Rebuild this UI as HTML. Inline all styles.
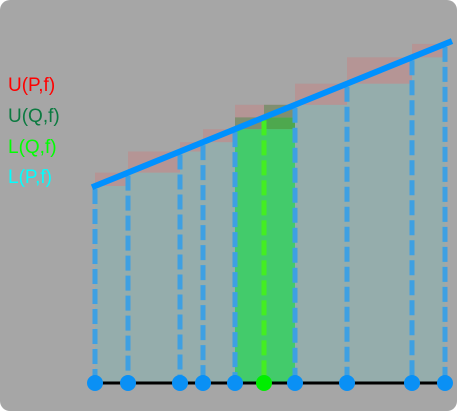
<!DOCTYPE html>
<html><head><meta charset="utf-8"><style>
html,body{margin:0;padding:0;background:#fff;}
svg{display:block;}
</style></head><body>
<svg id="chart" width="457" height="411" viewBox="0 0 457 411" xmlns="http://www.w3.org/2000/svg">
<rect x="0" y="0" width="457" height="411" rx="10" fill="#a6a6a6"/>
<g id="rects"></g>
<g id="dashes"></g>
<g id="fline"></g>
<line x1="95" y1="383" x2="445" y2="383" stroke="#000" stroke-width="3"/>
<g id="dots"></g>
<g font-family="Liberation Sans, sans-serif" font-size="19">
<text x="8" y="91" fill="#ff0000">U(P,f)</text>
<text x="8" y="122" fill="#0b7a40">U(Q,f)</text>
<text x="8" y="153" fill="#00ff00">L(Q,f)</text>
<text x="8" y="183" fill="#00ffff">L(P,f)</text>
</g>
</svg>
<script>
// partition P points (x data units) and refinement point
const partitionP = [0, 33, 85, 108, 140, 200, 252, 317, 350];
const refineQ = [169];
// f(x) endpoints: linear function values
const fStart = 0;      // f at x=0
const fSlope = 0.406;  // rise per unit
const NS="http://www.w3.org/2000/svg";
const X0=95, Y0=383, Ytop0=186;
function sx(v){return X0+v;}
function f(v){return fStart+fSlope*v;}
function sy(val){return Ytop0-val;}
function mk(tag,attrs,parent){const e=document.createElementNS(NS,tag);for(const k in attrs)e.setAttribute(k,attrs[k]);document.getElementById(parent).appendChild(e);return e;}
// P rectangles
for(let i=0;i<partitionP.length-1;i++){
  const a=partitionP[i],b=partitionP[i+1];
  const lo=mk('rect',{x:sx(a),y:sy(f(a)),width:sx(b)-sx(a),height:Y0-sy(f(a)),fill:'#95adac'},'rects');
  
  
  const up=mk('rect',{x:sx(a),y:sy(f(b)),width:sx(b)-sx(a),height:sy(f(a))-sy(f(b)),fill:'#b59595'},'rects');
  
  
}
// Q refinement in the interval containing refineQ
const q=refineQ[0];
let ia=0;for(let i=0;i<partitionP.length-1;i++){if(partitionP[i]<q&&q<partitionP[i+1])ia=i;}
const qa=partitionP[ia],qb=partitionP[ia+1];
let g=mk('rect',{x:sx(qa),y:sy(f(qa)),width:sx(qb)-sx(qa),height:Y0-sy(f(qa)),fill:'#43cb6b'},'rects');


g=mk('rect',{x:sx(q),y:sy(f(q)),width:sx(qb)-sx(q),height:sy(f(qa))-sy(f(q)),fill:'#4ea84e'},'rects');


g=mk('rect',{x:sx(qa),y:sy(f(q)),width:sx(q)-sx(qa),height:sy(f(qa))-sy(f(q)),fill:'#7f8f70'},'rects');


g=mk('rect',{x:sx(q),y:sy(f(qb)),width:sx(qb)-sx(q),height:sy(f(q))-sy(f(qb)),fill:'#7f8f70'},'rects');


// dashed verticals
partitionP.forEach(v=>{
  const l=mk('line',{x1:sx(v),x2:sx(v),y1:sy(f(v))+3,y2:Y0,stroke:'#3ea0e2','stroke-width':5,'stroke-dasharray':'15 5'},'dashes');
  
  
});
refineQ.forEach(v=>{
  const l=mk('line',{x1:sx(v),x2:sx(v),y1:sy(f(v))+3,y2:Y0,stroke:'#44ee22','stroke-width':5,'stroke-dasharray':'15 5'},'dashes');
  
  
});
// function line
const fl=mk('line',{x1:sx(-3),y1:sy(f(-3)),x2:sx(357),y2:sy(f(357)),stroke:'#0091ff','stroke-width':6},'fline');


// dots
partitionP.forEach(v=>{
  const c=mk('circle',{cx:sx(v),cy:Y0,r:8,fill:'#0a90f5'},'dots');
  
  
});
refineQ.forEach(v=>{
  const c=mk('circle',{cx:sx(v),cy:Y0,r:8,fill:'#00ee00'},'dots');
  
  
});
</script>
</body></html>
